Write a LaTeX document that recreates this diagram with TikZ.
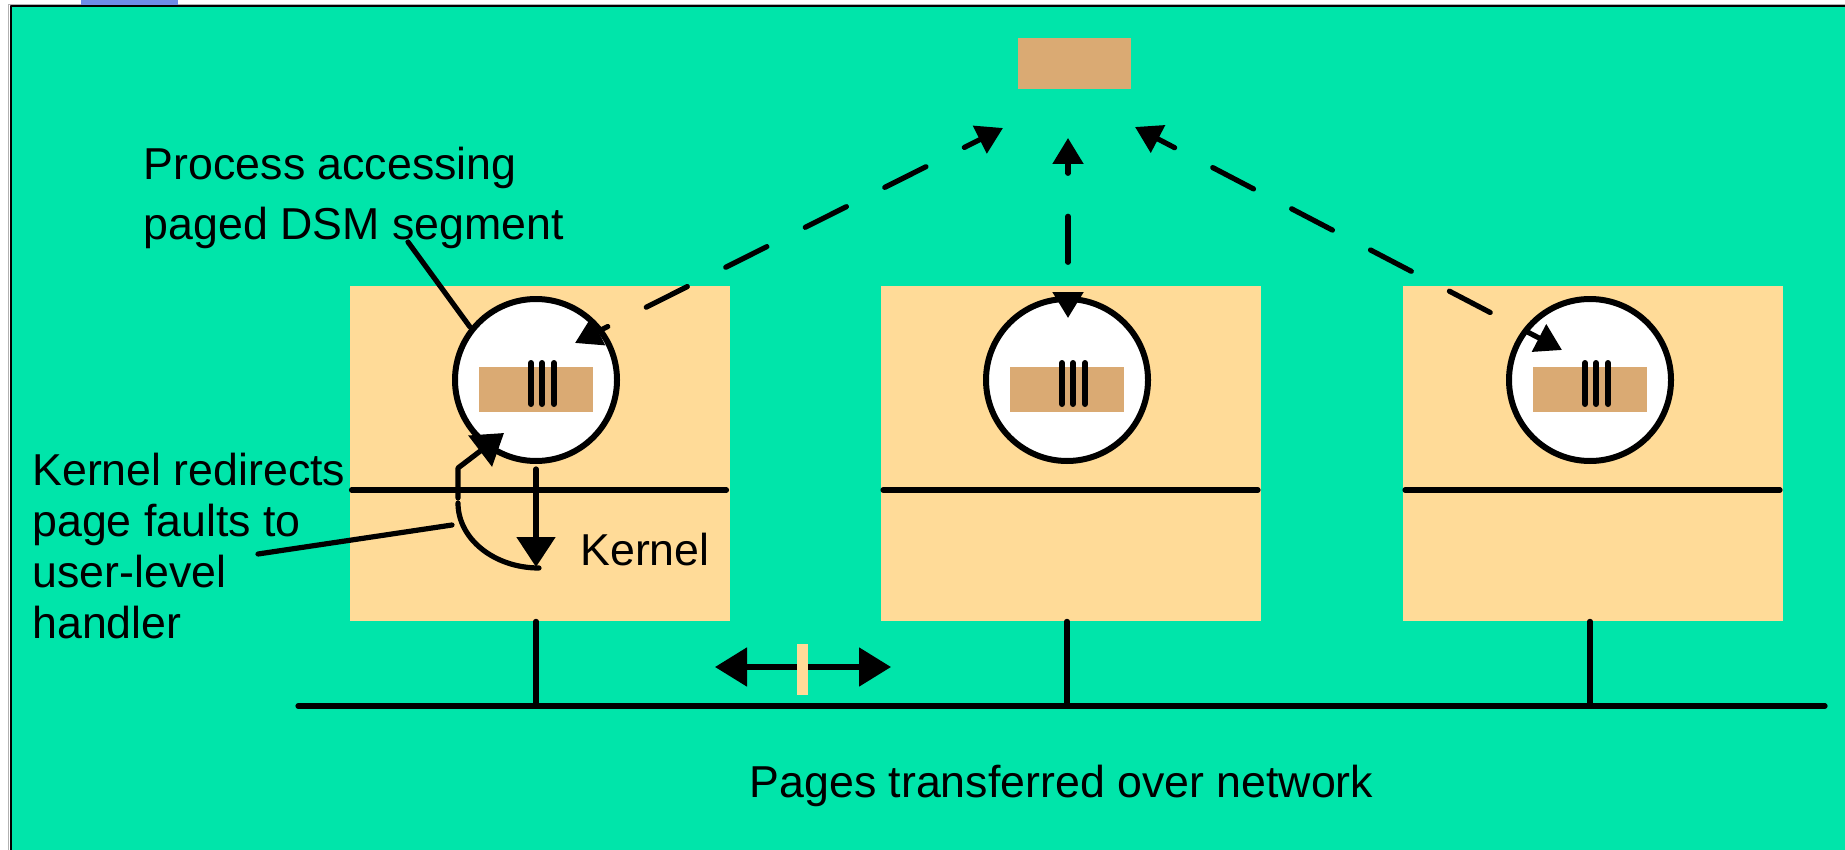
\documentclass[tikz,border=0pt]{standalone}
\usepackage{fontspec}
\setmainfont{Liberation Sans}
\usetikzlibrary{arrows.meta}
\definecolor{slidegreen}{RGB}{0,229,170}
\definecolor{hostfill}{RGB}{255,219,152}
\definecolor{segtan}{RGB}{218,170,115}
\definecolor{tabblue}{RGB}{110,140,230}
\begin{document}
\begin{tikzpicture}[x=0.5pt,y=-0.5pt,line join=round,
  lbl/.style={font=\fontsize{22.35}{25.5}\selectfont,inner sep=0pt,anchor=base west,align=left},
  hostbox/.style={fill=hostfill,minimum width=190pt,minimum height=167.5pt,inner sep=0pt},
  proc/.style={circle,draw=black,fill=white,line width=3pt,minimum size=81pt,inner sep=0pt},
  seg/.style={fill=segtan,minimum width=57pt,minimum height=22.5pt,inner sep=0pt},
  wire/.style={line width=2.6pt,line cap=round},
  bar/.style={line width=3pt,line cap=round},
  bigtip/.style={arrows={-Triangle[length=15pt,width=19pt]}},
  dsm/.style={wire,dash pattern=on 23pt off 21.5pt,
    arrows={Triangle[length=13pt,width=15pt]-Triangle[length=13pt,width=15pt]}},
]
\useasboundingbox (0,0) rectangle (1845,850);
% slide background and frame
\fill[white] (0,0) rectangle (1845,850);
\fill[slidegreen] (10,6) rectangle (1860,870);
\draw[gray!60,line width=0.5pt] (8.5,870) -- (8.5,4.8) -- (1860,4.8);
\draw[black,line width=1pt] (10.5,870) -- (10.5,6.5) -- (1860,6.5);
\fill[tabblue] (81,0) rectangle (178,5.5);

% network bus
\coordinate (netL) at (298,706);
\coordinate (netR) at (1825,706);
\draw[wire] (netL) -- (netR);

% three hosts, each with a process holding a DSM segment
\foreach \i/\hx/\cx in {1/539.5/536, 2/1071/1067, 3/1593/1590} {
  \node[hostbox] (h\i) at (\hx,453.5) {};
  \draw[wire] (\hx-188,490) -- (\hx+187,490);
  \node[proc] (c\i) at (\cx,380) {};
  \node[seg] (s\i) at (\cx,389.5) {};
  \foreach \dx in {-5,6,18} \draw[bar] (\cx+\dx,363) -- (\cx+\dx,404);
  \draw[wire] (c\i |- h\i.south) -- (c\i |- netL);
}

% shared page
\node[fill=segtan,minimum width=56.5pt,minimum height=25.5pt,inner sep=0pt] (page) at (1074.5,63.5) {};

% page requests / transfers (dashed)
\coordinate (a1) at (575,343);
\coordinate (t1) at (1003,128);
\coordinate (a2) at (1068,318);
\coordinate (t2) at (1068,138);
\coordinate (a3) at (1562,350);
\coordinate (t3) at (1135,127);
\draw[dsm,dash phase=17pt] (a1) -- (t1);
\draw[dsm,dash phase=29pt] (a2) -- (t2);
\draw[dsm,dash phase=13pt] (t3) -- (a3);

% page fault path in the first host
\coordinate (kr0) at (458,498);
\coordinate (kr1) at (458,468);
\coordinate (kr2) at (504,433);
\draw[wire,bigtip] (kr0) -- (kr1) -- (kr2);
\coordinate (kdown) at (537,567);
\draw[wire,bigtip] ([yshift=-2.5pt]c1.south) -- (c1.south |- kdown);
\coordinate (arc0) at (458,503);
\draw[wire] (arc0) arc[start angle=180,end angle=270,x radius=40.5pt,y radius=32.5pt];

% transfer over the network
\coordinate (dL) at (715,667);
\coordinate (dR) at (891,667);
\draw[wire,arrows={Triangle[length=16pt,width=19pt]-Triangle[length=16pt,width=19pt]}] (dL) -- (dR);
\node[fill=hostfill,minimum width=5.5pt,minimum height=25.5pt,inner sep=0pt] (pkt) at (802.5,669.5) {};

% labels (anchored at the baseline of their last line)
\node[lbl,font=\fontsize{22.35}{30}\selectfont] (proclbl) at (143.5,240) {Process accessing\\paged DSM segment};
\node[lbl] (faultlbl) at (32,638) {Kernel redirects\\page faults to\\user-level\\handler};
\node[lbl] (kernlbl) at (580,565) {Kernel};
\node[lbl,anchor=base] (netlbl) at (1061.5,797) {Pages transferred over network};

% label pointers
\coordinate (pp0) at (408,242);
\coordinate (pp1) at (470,327);
\draw[wire] (pp0) -- (pp1);
\coordinate (fp0) at (258,554);
\coordinate (fp1) at (452,525);
\draw[wire] (fp0) -- (fp1);
\end{tikzpicture}
\end{document}
